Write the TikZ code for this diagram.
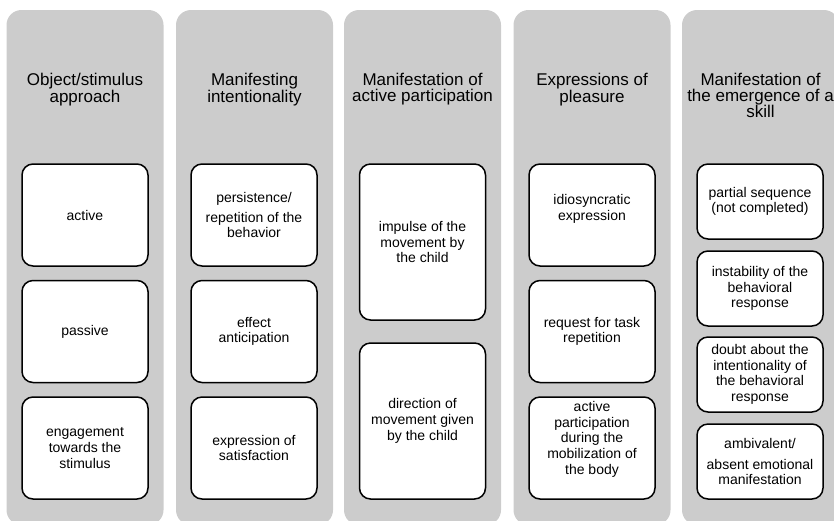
\documentclass[tikz,border=0pt]{standalone}
\usepackage{fontspec}
\setmainfont{Liberation Sans}
\definecolor{colgray}{HTML}{CCCCCC}
\begin{document}
\begin{tikzpicture}[x=1pt,y=-1pt,
  column/.style={fill=colgray,draw=none,rounded corners=15pt,minimum width=157pt,minimum height=515pt,inner sep=0pt},
  title/.style={anchor=north,inner sep=0pt,align=center,font=\fontsize{17}{15.7}\selectfont},
  card/.style={draw=black,line width=1.5pt,fill=white,rounded corners=11pt,minimum width=126pt,inner sep=0pt,align=center,font=\fontsize{14}{15.7}\selectfont},
  tall/.style={card,minimum height=102pt},
  xtall/.style={card,minimum height=156pt},
  short/.style={card,minimum height=75pt}]
\useasboundingbox (0,0) rectangle (834,520);
\clip (0,0) rectangle (834,520);
% columns
\node[column] (c1) at (85,267.5) {};
\node[column] (c2) at (254.5,267.5) {};
\node[column] (c3) at (422.5,267.5) {};
\node[column] (c4) at (592,267.5) {};
\node[column] (c5) at (760.5,267.5) {};
% titles
\node[title] (t1) at (85,72.8) {Object/stimulus\\approach};
\node[title] (t2) at (254.5,72.8) {Manifesting\\intentionality};
\node[title] (t3) at (422.5,72.8) {Manifestation of\\active participation};
\node[title] (t4) at (592,72.8) {Expressions of\\pleasure};
\node[title] (t5) at (760.5,72.8) {Manifestation of\\the emergence of a\\skill};
% column 1
\node[tall] (a1) at (85,215) {active};
\node[tall] (a2) at (85,331.5) {passive};
\node[tall] (a3) at (85,448) {engagement\\towards the\\stimulus};
% column 2
\node[tall] (b1) at (254,215) {persistence/\\[4.5pt]repetition of the\\behavior};
\node[tall] (b2) at (254,331.5) {effect\\anticipation};
\node[tall] (b3) at (254,448) {expression of\\satisfaction};
% column 3
\node[xtall] (d1) at (422.5,242) {impulse of the\\movement by\\the child};
\node[xtall] (d2) at (422.5,421) {direction of\\movement given\\by the child};
% column 4
\node[tall] (e1) at (592,215) {idiosyncratic\\expression\\\mbox{}};
\node[tall] (e2) at (592,331.5) {request for task\\repetition};
\node[tall] (e3) at (592,448) {active\\participation\\during the\\mobilization of\\the body\\[5pt]\mbox{}};
% column 5
\node[short] (f1) at (760,201.5) {partial sequence\\(not completed)};
\node[short] (f2) at (760,288.5) {instability of the\\behavioral\\response};
\node[short] (f3) at (760,374.5) {doubt about the\\intentionality of\\the behavioral\\response};
\node[short] (f4) at (760,461.5) {ambivalent/\\[5pt]absent emotional\\manifestation};
\end{tikzpicture}
\end{document}
